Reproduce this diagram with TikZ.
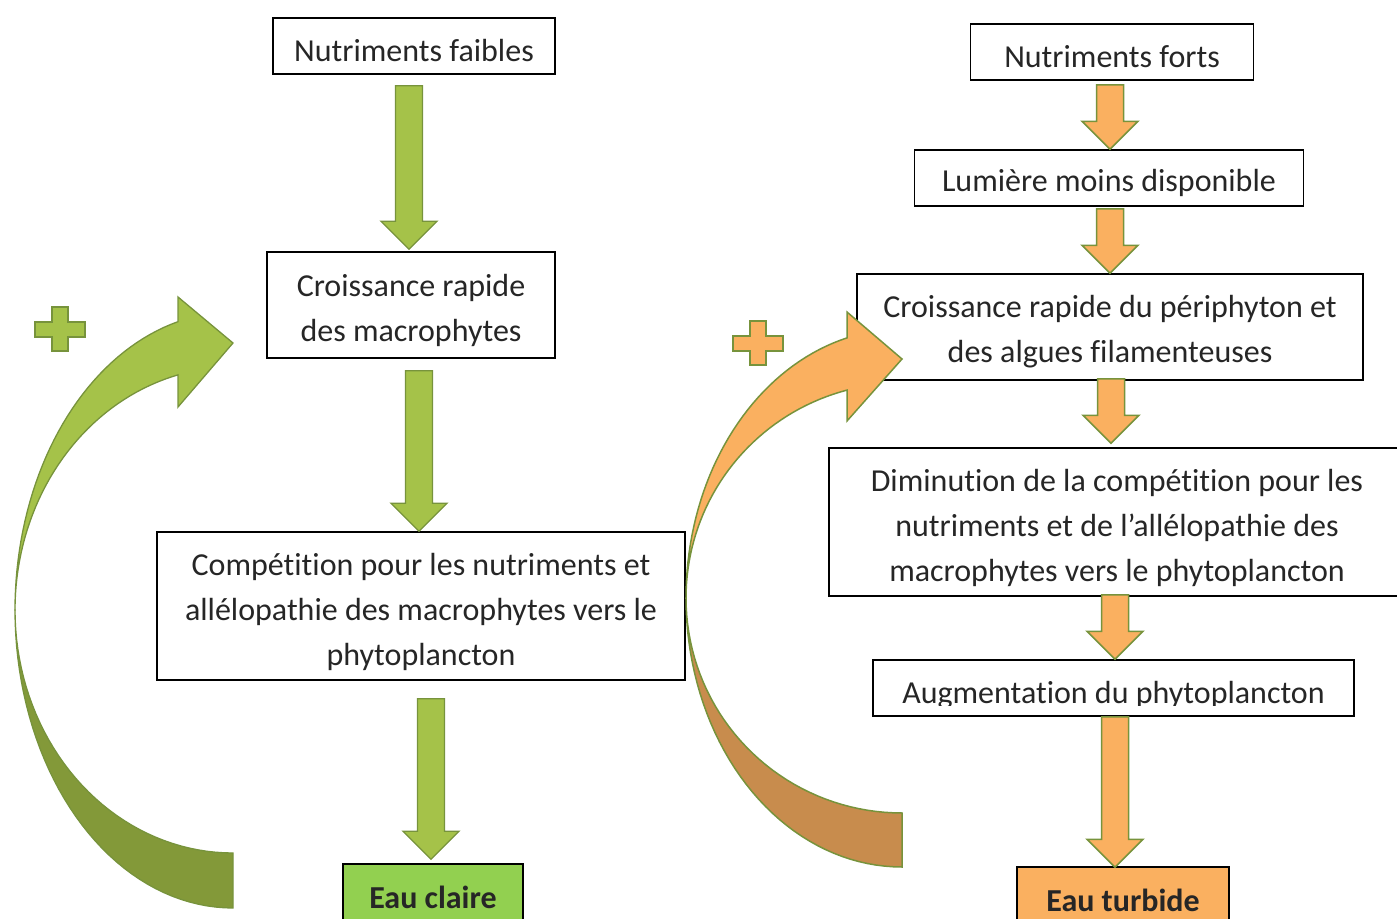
\documentclass[tikz,border=0pt]{standalone}
\usepackage{fontspec}
\setmainfont{Carlito}[Ligatures=NoCommon]
\usepackage{tikz}
\usetikzlibrary{positioning,calc}

\definecolor{txtgray}{RGB}{38,38,38}
\definecolor{greenL}{RGB}{165,194,73}
\definecolor{greenD}{RGB}{131,153,57}
\definecolor{oliveln}{RGB}{119,147,60}
\definecolor{orangeL}{RGB}{250,176,96}
\definecolor{orangeD}{RGB}{200,140,77}
\definecolor{clairfill}{RGB}{146,208,80}

% straight block arrow: style, top point, tip point
\newcommand{\blockarr}[3]{%
  \draw[#1] let \p1=(#2), \p2=(#3) in
    (\x1-13.5pt,\y1) -- (\x1+13.5pt,\y1) -- (\x1+13.5pt,\y2+28pt)
    -- (\x1+28pt,\y2+28pt) -- (\x1,\y2) -- (\x1-28pt,\y2+28pt)
    -- (\x1-13.5pt,\y2+28pt) -- cycle;}
% plus sign: style, centre
\newcommand{\plussign}[2]{%
  \draw[#1] ($(#2)+(-8,-22)$) -- ++(16,0) -- ++(0,15) -- ++(17,0) -- ++(0,15)
    -- ++(-17,0) -- ++(0,14) -- ++(-16,0) -- ++(0,-14) -- ++(-17,0)
    -- ++(0,-15) -- ++(17,0) -- cycle;}

\begin{document}
\begin{tikzpicture}[x=1pt,y=-1pt,
    box/.style={draw=black, line width=1.5pt, fill=white, inner sep=0pt},
    boxtxt/.style={yshift=-5pt, align=center, text=txtgray, font=\fontsize{32}{45}\selectfont},
    endbox/.style={draw=black, line width=1.5pt, inner sep=0pt, text=txtgray,
      font=\fontsize{32}{45}\selectfont\bfseries},
    greenarr/.style={fill=greenL, draw=oliveln, line width=1.3pt},
    orangearr/.style={fill=orangeL, draw=oliveln, line width=1.5pt}]
  \useasboundingbox (0,0) rectangle (1397,918);
  \clip (0,0) rectangle (1397,918);

  % Left column: low nutrients
  \node[box, minimum width=282, minimum height=56,
    label={[boxtxt]center:Nutriments faibles}] (faible) at (414,46) {};
  \node[box, minimum width=288, minimum height=106,
    label={[boxtxt]center:Croissance rapide\\des macrophytes}] (croissM) at (411,305) {};
  \node[box, minimum width=528, minimum height=148,
    label={[boxtxt, yshift=-1pt]center:Compétition pour les nutriments et\\allélopathie des macrophytes vers le\\phytoplancton}] (compet) at (421,606) {};
  \node[endbox, fill=clairfill, minimum width=180, minimum height=66] (claire) at (433,897) {Eau claire};

  % Right column: high nutrients
  \node[box, minimum width=283, minimum height=56,
    label={[boxtxt]center:Nutriments forts}] (fort) at (1112,52) {};
  \node[box, minimum width=389, minimum height=56,
    label={[boxtxt]center:Lumière moins disponible}] (lumiere) at (1109,178) {};
  \node[box, minimum width=506, minimum height=106,
    label={[boxtxt]center:Croissance rapide du périphyton et\\des algues filamenteuses}] (croissP) at (1110,327) {};
  \node[box, minimum width=576, minimum height=148,
    label={[boxtxt, yshift=-1pt]center:Diminution de la compétition pour les\\nutriments et de l’allélopathie des\\macrophytes vers le phytoplancton}] (diminu) at (1117,522) {};
  \node[box, minimum width=481, minimum height=56] (augment) at (1113.5,688) {};
  \begin{scope}
    \clip (870,662) rectangle (1352,705);
    \node[boxtxt, yshift=5pt, anchor=base] (augtxt) at (1113.5,703) {Augmentation du phytoplancton};
  \end{scope}
  \node[endbox, fill=orangeL, minimum width=212, minimum height=66] (turbide) at (1123,900) {Eau turbide};

  % Block arrows between the boxes
  \blockarr{greenarr}{$(faible.south)+(-5,11)$}{$(croissM.north)+(0,-2)$}
  \blockarr{greenarr}{$(croissM.south)+(8,12)$}{compet.north}
  \blockarr{greenarr}{$(compet.south)+(10,18)$}{$(claire.north)+(0,-4)$}
  \blockarr{orangearr}{$(fort.south)+(-2,4)$}{lumiere.north}
  \blockarr{orangearr}{$(lumiere.south)+(1,2)$}{croissP.north}
  \blockarr{orangearr}{$(croissP.south)+(1,-2)$}{$(diminu.north)+(0,-4)$}
  \blockarr{orangearr}{$(diminu.south)+(-2,-2)$}{augment.north}
  \blockarr{orangearr}{$(augment.south)+(1.5,0)$}{$(turbide.north)+(0,1)$}

  % Curved feedback arrow, left
  \draw[fill=greenD, draw=oliveln, line width=1.3pt]
    plot[domain=180:90, samples=40] ({233+218*cos(\x)},{610+298*sin(\x)})
    -- (233,853)
    -- plot[domain=90:180, samples=40] ({233+218*cos(\x)},{610+243*sin(\x)}) -- cycle;
  \draw[greenarr]
    plot[domain=180:255.4, samples=40] ({233+218*cos(\x)},{610+298*sin(\x)})
    -- (178,297) -- (233,343) -- (178,407)
    -- plot[domain=255.4:180, samples=40] ({233+218*cos(\x)},{610+243*sin(\x)}) -- cycle;
  \coordinate (plusL) at (60,329);
  \plussign{greenarr}{plusL}

  % Curved feedback arrow, right
  \draw[fill=orangeD, draw=oliveln, line width=1.5pt]
    plot[domain=180:90, samples=40] ({902+216*cos(\x)},{598+269*sin(\x)})
    -- (902,813)
    -- plot[domain=90:180, samples=40] ({902+216*cos(\x)},{598+215*sin(\x)}) -- cycle;
  \draw[orangearr]
    plot[domain=180:255.25, samples=40] ({902+216*cos(\x)},{598+269*sin(\x)})
    -- (847,312) -- (902,359) -- (847,421)
    -- plot[domain=255.25:180, samples=40] ({902+216*cos(\x)},{598+215*sin(\x)}) -- cycle;
  \coordinate (plusR) at (758,343);
  \plussign{orangearr}{plusR}
\end{tikzpicture}
\end{document}
